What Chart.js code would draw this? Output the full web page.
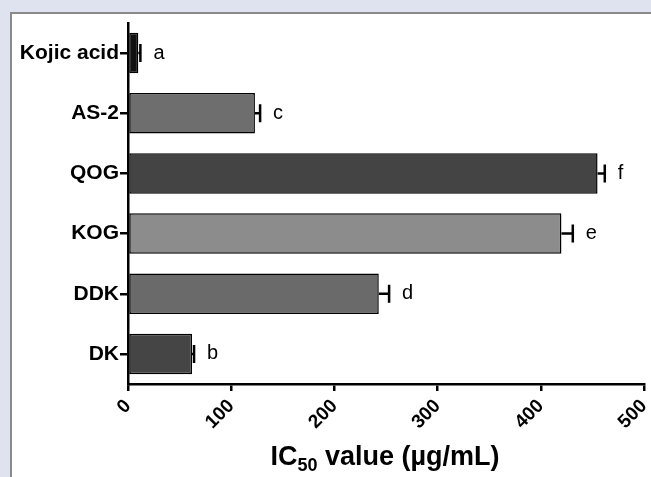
<!DOCTYPE html>
<html>
<head>
<meta charset="utf-8">
<script src="https://cdn.jsdelivr.net/npm/chart.js@4"></script>
<style>
  body { margin: 0; background: #dfe3f0; width: 651px; height: 477px; overflow: hidden; }
  #panel { position: absolute; left: 10px; top: 12px; width: 660px; height: 480px; background: #fff;
           border-top: 2px solid #8a8a8a; border-left: 2px solid #8a8a8a; }
  #wrap { position: absolute; left: 0; top: 0; width: 651px; height: 477px; }
</style>
</head>
<body>
<div id="panel"></div>
<div id="wrap"><canvas id="myChart" width="651" height="477"></canvas></div>
<script>
// IC50 values
const categories = ["Kojic acid", "AS-2", "QOG", "KOG", "DDK", "DK"];
const ic50 = [10, 123, 455, 420, 243, 62];
const errors = [2, 5, 7, 11, 10, 2];
const letters = ["a", "c", "f", "e", "d", "b"];
const barColors = ["#111111", "#6e6e6e", "#444444", "#8c8c8c", "#6a6a6a", "#454545"];
const xTicks = [0, 100, 200, 300, 400, 500];

// error bars + significance letters
const errorBars = {
	id: "errorBars",
	afterDatasetsDraw(chart) {
		const ctx = chart.ctx;
		const xs = chart.scales.x;
		const meta = chart.getDatasetMeta(0);
		ctx.save();
		ctx.strokeStyle = "#000";
		ctx.lineWidth = 2.5;
		meta.data.forEach(function(bar, i) {
			var x0 = xs.getPixelForValue(ic50[i]);
			var x1 = xs.getPixelForValue(ic50[i] + errors[i]);
			ctx.beginPath();
			ctx.moveTo(x0, bar.y);
			ctx.lineTo(x1, bar.y);
			ctx.moveTo(x1, bar.y - 9);
			ctx.lineTo(x1, bar.y + 9);
			ctx.stroke();
			ctx.fillStyle = "#000";
			ctx.font = "20px 'Liberation Sans', Arial, sans-serif";
			ctx.textAlign = "left";
			ctx.textBaseline = "middle";
			ctx.fillText(letters[i], x1 + 13, bar.y);
		});
		ctx.restore();
	}
};

// axis title with subscript
const axisTitle = {
	id: "axisTitle",
	afterDraw(chart) {
		const ctx = chart.ctx;
		const big = "bold 27px 'Liberation Sans', Arial, sans-serif";
		const small = "bold 18px 'Liberation Sans', Arial, sans-serif";
		ctx.save();
		ctx.fillStyle = "#000";
		ctx.textBaseline = "alphabetic";
		ctx.font = big;
		var w1 = ctx.measureText("IC").width;
		var w3 = ctx.measureText(" value (µg/mL)").width;
		ctx.font = small;
		var w2 = ctx.measureText("50").width;
		var x = 385 - (w1 + w2 + w3) / 2;
		var y = 465;
		ctx.font = big;
		ctx.fillText("IC", x, y);
		ctx.font = small;
		ctx.fillText("50", x + w1, y + 6);
		ctx.font = big;
		ctx.fillText(" value (µg/mL)", x + w1 + w2, y);
		ctx.restore();
	}
};

var ctx = document.getElementById("myChart").getContext("2d");
var myChart = new Chart(ctx, {
	type: "bar",
	data: {
		labels: categories,
		datasets: [{
			data: ic50,
			backgroundColor: barColors,
			borderColor: "#000",
			borderWidth: 1.5,
			borderSkipped: false,
			barPercentage: 0.8,
			categoryPercentage: 0.84
		}]
	},
	options: {
		indexAxis: "y",
		responsive: false,
		animation: false,
		layout: { padding: { top: 23, right: 7, left: 0, bottom: 0 } },
		plugins: { legend: { display: false }, tooltip: { enabled: false } },
		scales: {
			x: {
				min: 0,
				max: 500,
				afterBuildTicks: function(scale) { scale.ticks = xTicks.map(v => ({ value: v })); },
				afterFit: function(scale) {
					scale.height = 93;
					scale.paddingLeft = 0;
					scale.paddingRight = 0;
				},
				border: { display: true, color: "#000", width: 2.5 },
				grid: { drawOnChartArea: false, drawTicks: true, tickLength: 7, color: "#000", lineWidth: 2.5 },
				ticks: {
					minRotation: 45,
					maxRotation: 45,
					padding: 4,
					color: "#000",
					font: { family: "'Liberation Sans', Arial, sans-serif", size: 19, weight: "bold" }
				}
			},
			y: {
				afterFit: function(scale) { scale.width = 128; },
				border: { display: true, color: "#000", width: 2.5 },
				grid: { offset: false, drawOnChartArea: false, drawTicks: true, tickLength: 8, color: "#000", lineWidth: 2.5 },
				ticks: {
					padding: 1,
					color: "#000",
					font: { family: "'Liberation Sans', Arial, sans-serif", size: 21, weight: "bold" }
				}
			}
		}
	},
	plugins: [errorBars, axisTitle]
});
</script>
</body>
</html>
